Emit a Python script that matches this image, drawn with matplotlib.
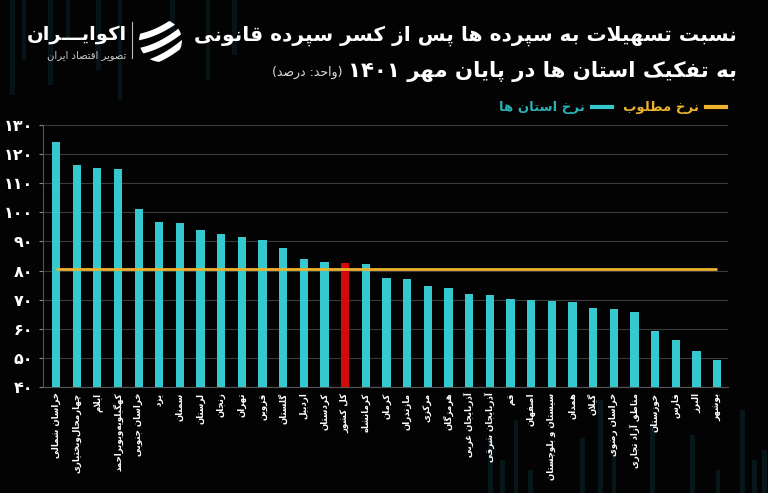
import re
import numpy as np
import matplotlib
matplotlib.use("Agg")
import matplotlib.pyplot as plt
from matplotlib.lines import Line2D
from matplotlib.patches import Circle, Rectangle
from matplotlib.ticker import FixedLocator, FuncFormatter

# ---------------- data ----------------
provinces = ['خراسان شمالی', 'چهارمحال‌وبختیاری', 'ایلام', 'کهگیلویه‌وبویراحمد', 'خراسان جنوبی',
             'یزد', 'سمنان', 'لرستان', 'زنجان', 'تهران', 'قزوین', 'گلستان', 'اردبیل', 'کردستان',
             'کل کشور', 'کرمانشاه', 'کرمان', 'مازندران', 'مرکزی', 'هرمزگان', 'آذربایجان غربی',
             'آذربایجان شرقی', 'قم', 'اصفهان', 'سیستان و بلوچستان', 'همدان', 'گیلان', 'خراسان رضوی',
             'مناطق آزاد تجاری', 'خوزستان', 'فارس', 'البرز', 'بوشهر']
values = [124.1, 116.1, 115.2, 114.8, 101.0, 96.7, 96.2, 94.1, 92.5, 91.5, 90.4, 87.7, 83.9,
          83.0, 82.5, 82.4, 77.4, 77.2, 74.6, 73.9, 72.1, 71.5, 70.1, 69.9, 69.7, 69.2, 67.1,
          66.8, 65.6, 59.2, 56.2, 52.4, 49.4]
national_label = 'کل کشور'
required_rate = 80.7
y_ticks = [40, 50, 60, 70, 80, 90, 100, 110, 120, 130]

title_line1 = 'نسبت تسهیلات به سپرده ها پس از کسر سپرده قانونی'
title_line2 = 'به تفکیک استان ها در پایان مهر ۱۴۰۱'
unit_text = '(واحد: درصد)'
legend_required = 'نرخ مطلوب'
legend_provinces = 'نرخ استان ها'
brand = 'اکوایـــران'
brand_sub = 'تصویر اقتصاد ایران'

# ---------------- simple Persian shaping + RTL ----------------
_F = {
    '\u0627': ('\uFE8D', '\uFE8E', None, None),
    '\u0622': ('\uFE81', '\uFE82', None, None),
    '\u0628': ('\uFE8F', '\uFE90', '\uFE91', '\uFE92'),
    '\u067E': ('\uFB56', '\uFB57', '\uFB58', '\uFB59'),
    '\u062A': ('\uFE95', '\uFE96', '\uFE97', '\uFE98'),
    '\u062B': ('\uFE99', '\uFE9A', '\uFE9B', '\uFE9C'),
    '\u062C': ('\uFE9D', '\uFE9E', '\uFE9F', '\uFEA0'),
    '\u0686': ('\uFB7A', '\uFB7B', '\uFB7C', '\uFB7D'),
    '\u062D': ('\uFEA1', '\uFEA2', '\uFEA3', '\uFEA4'),
    '\u062E': ('\uFEA5', '\uFEA6', '\uFEA7', '\uFEA8'),
    '\u062F': ('\uFEA9', '\uFEAA', None, None),
    '\u0630': ('\uFEAB', '\uFEAC', None, None),
    '\u0631': ('\uFEAD', '\uFEAE', None, None),
    '\u0632': ('\uFEAF', '\uFEB0', None, None),
    '\u0698': ('\uFB8A', '\uFB8B', None, None),
    '\u0633': ('\uFEB1', '\uFEB2', '\uFEB3', '\uFEB4'),
    '\u0634': ('\uFEB5', '\uFEB6', '\uFEB7', '\uFEB8'),
    '\u0635': ('\uFEB9', '\uFEBA', '\uFEBB', '\uFEBC'),
    '\u0636': ('\uFEBD', '\uFEBE', '\uFEBF', '\uFEC0'),
    '\u0637': ('\uFEC1', '\uFEC2', '\uFEC3', '\uFEC4'),
    '\u0638': ('\uFEC5', '\uFEC6', '\uFEC7', '\uFEC8'),
    '\u0639': ('\uFEC9', '\uFECA', '\uFECB', '\uFECC'),
    '\u063A': ('\uFECD', '\uFECE', '\uFECF', '\uFED0'),
    '\u0641': ('\uFED1', '\uFED2', '\uFED3', '\uFED4'),
    '\u0642': ('\uFED5', '\uFED6', '\uFED7', '\uFED8'),
    '\u06A9': ('\uFB8E', '\uFB8F', '\uFB90', '\uFB91'),
    '\u06AF': ('\uFB92', '\uFB93', '\uFB94', '\uFB95'),
    '\u0644': ('\uFEDD', '\uFEDE', '\uFEDF', '\uFEE0'),
    '\u0645': ('\uFEE1', '\uFEE2', '\uFEE3', '\uFEE4'),
    '\u0646': ('\uFEE5', '\uFEE6', '\uFEE7', '\uFEE8'),
    '\u0648': ('\uFEED', '\uFEEE', None, None),
    '\u0647': ('\uFEE9', '\uFEEA', '\uFEEB', '\uFEEC'),
    '\u06CC': ('\uFBFC', '\uFBFD', '\uFBFE', '\uFBFF'),
    '\u0626': ('\uFE89', '\uFE8A', '\uFE8B', '\uFE8C'),
    '\u0640': ('\u0640', '\u0640', '\u0640', '\u0640'),
}


def _joins_next(c):
    return c in _F and _F[c][2] is not None


def shape(s):
    out = []
    n = len(s)
    i = 0
    while i < n:
        c = s[i]
        if c not in _F:
            if c != '\u200c':
                out.append(c)
            i += 1
            continue
        prev = s[i - 1] if i > 0 else None
        cp = prev is not None and _joins_next(prev)
        if c == '\u0644' and i + 1 < n and s[i + 1] in ('\u0627', '\u0622'):
            if s[i + 1] == '\u0627':
                out.append('\uFEFC' if cp else '\uFEFB')
            else:
                out.append('\uFEF6' if cp else '\uFEF5')
            i += 2
            continue
        nxt = s[i + 1] if i + 1 < n else None
        cn = _joins_next(c) and nxt is not None and nxt in _F
        iso, fin, ini, med = _F[c]
        if cp and cn:
            g = med
        elif cp:
            g = fin
        elif cn:
            g = ini
        else:
            g = iso
        out.append(g)
        i += 1
    return ''.join(out)


def fa(s):
    r = shape(s)[::-1]
    r = re.sub(r'[0-9\u06F0-\u06F9]+', lambda m: m.group(0)[::-1], r)
    return r.translate(str.maketrans('()', ')('))


def fa_digits(v):
    return str(int(v)).translate(str.maketrans('0123456789', '۰۱۲۳۴۵۶۷۸۹'))


# ---------------- style ----------------
BG = '#030303'
CYAN = '#35C8CE'
RED = '#D20A0A'
YELLOW = '#EDB22E'
GRID = '#3A3A3A'
DECO = '#0B2A30'
plt.rcParams['font.family'] = ['DejaVu Sans']

fig = plt.figure(figsize=(7.68, 4.93), dpi=100, facecolor=BG)

# faint decorative background stripes (top-left and bottom-right)
W, H = 768.0, 493.0
for (x0, w, y0, y1) in [(10, 5, 0, 95), (22, 4, 0, 60), (48, 5, 0, 85), (66, 4, 0, 40),
                        (96, 5, 0, 70), (118, 4, 0, 100), (170, 5, 0, 35), (206, 4, 0, 80),
                        (232, 5, 0, 55)]:
    fig.add_artist(Rectangle((x0 / W, 1 - y1 / H), w / W, (y1 - y0) / H,
                             transform=fig.transFigure, color=DECO, alpha=0.45, lw=0, zorder=0))
for (x0, w, y0) in [(488, 5, 440), (500, 5, 460), (514, 4, 420), (528, 5, 470), (580, 5, 438),
                    (598, 5, 400), (612, 4, 450), (650, 5, 425), (690, 5, 435), (716, 4, 470),
                    (740, 5, 410), (752, 5, 460), (762, 5, 450)]:
    fig.add_artist(Rectangle((x0 / W, 0), w / W, (H - y0) / H,
                             transform=fig.transFigure, color=DECO, alpha=0.5, lw=0, zorder=0))

ax = fig.add_axes([43 / W, 1 - 387 / H, (728 - 43) / W, (387 - 125) / H])
ax.set_facecolor('none')

x = list(range(len(provinces)))
colors = [RED if p == national_label else CYAN for p in provinces]
ax.bar(x, values, width=0.4, color=colors, zorder=3)
ax.hlines(required_rate, x[0], x[-1], color=YELLOW, linewidth=2, zorder=4)

ax.set_ylim(y_ticks[0], y_ticks[-1])
ax.set_xlim(-0.63, len(provinces) - 1 + 0.53)
ax.yaxis.set_major_locator(FixedLocator(y_ticks))
ax.yaxis.set_major_formatter(FuncFormatter(lambda v, p: fa_digits(v)))
ax.grid(axis='y', color=GRID, linewidth=0.8, zorder=0)
ax.set_xticks(x)
ax.set_xticklabels([fa(p) for p in provinces], rotation=90, fontsize=6.2,
                   fontweight='bold', color='white')
ax.tick_params(axis='x', length=0, pad=4)
ax.tick_params(axis='y', colors='#888888', labelcolor='white', labelsize=11.5, length=3, pad=4)
for lab in ax.get_yticklabels():
    lab.set_fontweight('bold')
for side in ['top', 'right']:
    ax.spines[side].set_visible(False)
for side in ['left', 'bottom']:
    ax.spines[side].set_color('#555555')
    ax.spines[side].set_linewidth(0.8)

# legend (RTL: handle to the right of text)
handles = [Line2D([0], [0], color=CYAN, lw=3), Line2D([0], [0], color=YELLOW, lw=3)]
leg = fig.legend(handles, [fa(legend_provinces), fa(legend_required)], ncol=2,
                 markerfirst=False, frameon=False, loc='center right',
                 bbox_to_anchor=(738 / W, 1 - 108 / H), handlelength=1.5,
                 handletextpad=0.6, columnspacing=0.8,
                 prop={'weight': 'bold', 'size': 9.5})
for t, c in zip(leg.get_texts(), ['#2BB0B6', YELLOW]):
    t.set_color(c)

# titles
fig.text(737 / W, 1 - 36 / H, fa(title_line1), ha='right', va='center',
         color='white', fontsize=14.5, fontweight='bold')
t2 = fig.text(737 / W, 1 - 72 / H, fa(title_line2), ha='right', va='center',
              color='white', fontsize=15.3, fontweight='bold')
fig.canvas.draw()
bb = t2.get_window_extent()
fig.text((bb.x0 - 5) / W, 1 - 72 / H, fa(unit_text), ha='right', va='center',
         color='#DDDDDD', fontsize=9)

# brand / logo
fig.text(127 / W, 1 - 35 / H, fa(brand), ha='right', va='center', color='white',
         fontsize=14, fontweight='bold')
fig.text(126 / W, 1 - 55 / H, fa(brand_sub), ha='right', va='center', color='#CCCCCC',
         fontsize=7.2)
fig.add_artist(Line2D([132 / W, 132 / W], [1 - 22 / H, 1 - 58 / H],
                      color='#BBBBBB', lw=0.8, transform=fig.transFigure))
lax = fig.add_axes([138 / W, 1 - 63 / H, 45 / W, 45 / H])
lax.set_xlim(-1.05, 1.05)
lax.set_ylim(-1.05, 1.05)
lax.set_aspect('equal')
lax.axis('off')
clip = Circle((0, 0), 1.0, transform=lax.transData)
tt = np.linspace(-1.2, 1.2, 60)
for off in (-0.66, 0.0, 0.66):
    ln, = lax.plot(tt, 0.5 * tt + off - 0.15 * (1 - tt ** 2), color='white', lw=4.5,
                   solid_capstyle='round')
    ln.set_clip_path(clip)

fig.savefig('out.png', dpi=100, facecolor=BG)
